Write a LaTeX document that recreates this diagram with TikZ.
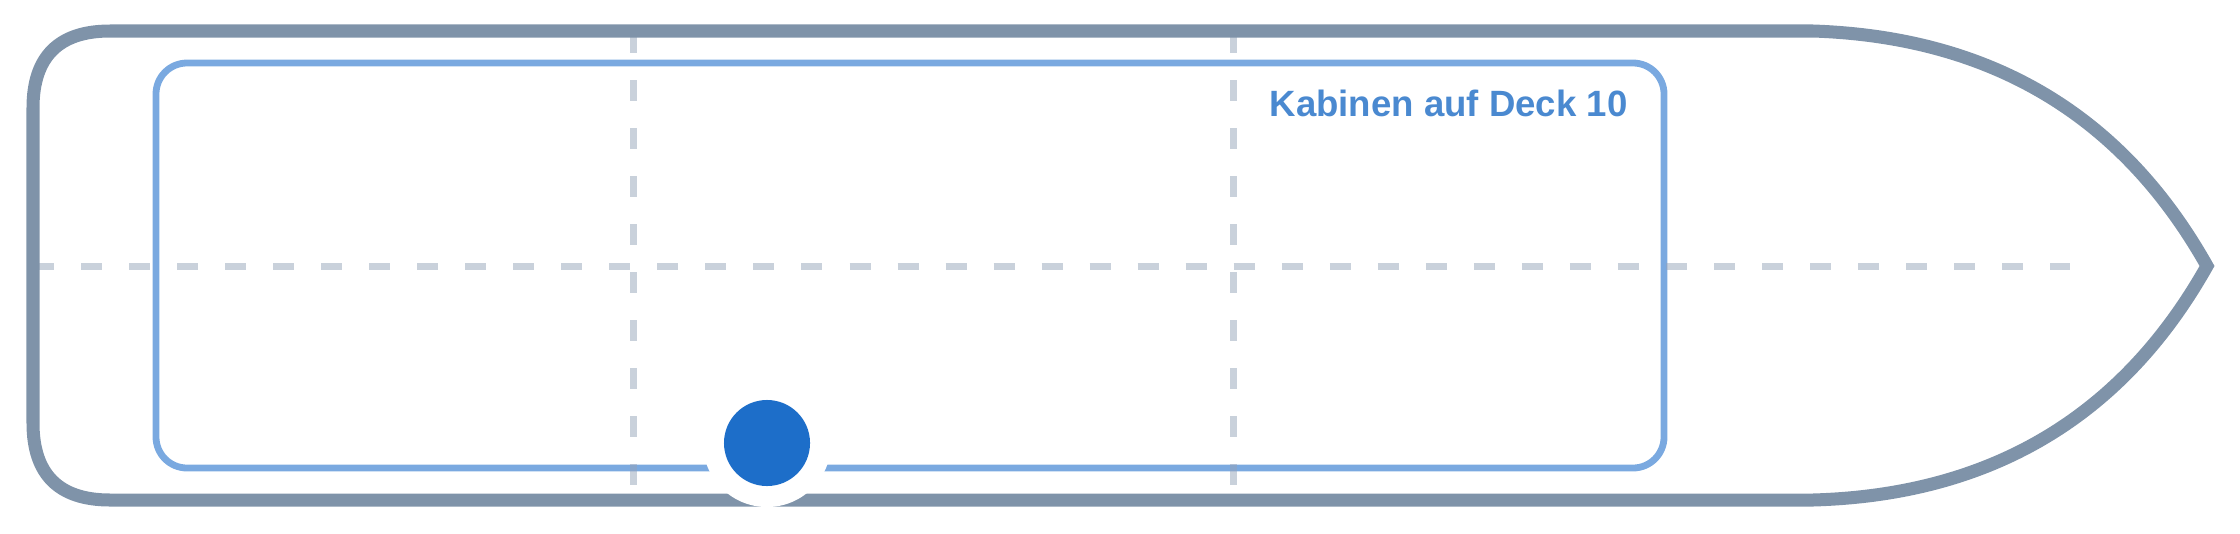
\documentclass[tikz,border=0pt]{standalone}
\usepackage{fontspec}
\setmainfont{Liberation Sans}
\definecolor{hull}{HTML}{7F93A9}
\definecolor{deckline}{HTML}{7AA9E0}
\definecolor{labelblue}{HTML}{4A89D0}
\definecolor{dotblue}{HTML}{1D6EC9}
\definecolor{gridslate}{HTML}{94A3B8}
\tikzset{
  hullline/.style={draw=hull, line width=0.13cm, line join=miter},
  deckbox/.style={draw=deckline, line width=0.068cm, rounded corners=0.31cm},
  gridline/.style={draw=gridslate, draw opacity=0.5, line width=0.07cm, dash pattern=on 0.21cm off 0.27cm},
  decklabel/.style={text=labelblue, font=\fontsize{10.4pt}{12pt}\selectfont\bfseries, inner sep=0pt, anchor=base west},
  halo/.style={circle, fill=white, minimum size=1.28cm, inner sep=0pt},
  marker/.style={circle, fill=dotblue, minimum size=0.86cm, inner sep=0pt}
}
\begin{document}
\begin{tikzpicture}[x=0.01cm, y=-0.01cm]
\useasboundingbox (0,0) rectangle (2240,533);
% deck outline
\draw[deckbox] (156,63) rectangle (1664,468);
% grid lines
\coordinate (hs) at (33,266);
\coordinate (he) at (2070,266);
\coordinate (v1s) at (633,32);
\coordinate (v1e) at (633,485);
\coordinate (v2s) at (1233,32);
\coordinate (v2e) at (1233,485);
\draw[gridline] (hs) -- (he);
\draw[gridline] (v1s) -- (v1e);
\draw[gridline] (v2s) -- (v2e);
% hull
\draw[hullline] (1813,31) -- (110,31)
  .. controls (58.7,31) and (33,56.7) .. (33,108)
  -- (33,423)
  .. controls (33,474.3) and (58.7,500) .. (110,500)
  -- (1813,500)
  .. controls (1991,495) and (2122.3,416.7) .. (2207,266)
  .. controls (2122.3,115.3) and (1991,37) .. (1813,31) -- cycle;
% label
\node[decklabel] (lbl) at (1269,116) {Kabinen auf Deck 10};
% position marker
\node[halo] (ring) at (767,443) {};
\node[marker] (pos) at (ring.center) {};
\end{tikzpicture}
\end{document}
